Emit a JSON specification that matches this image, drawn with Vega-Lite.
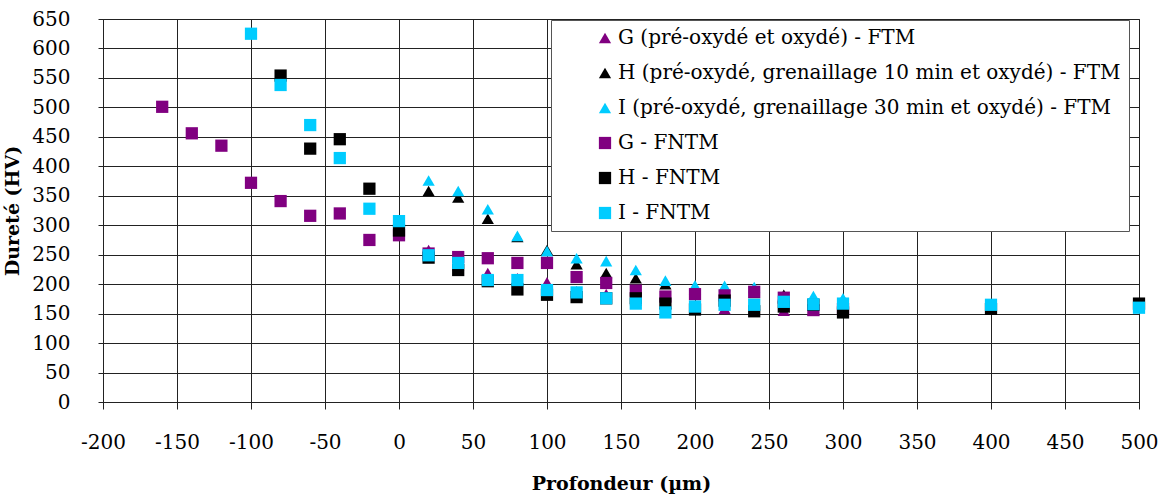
{
  "$schema": "https://vega.github.io/schema/vega-lite/v6.json",
  "autosize": {"type": "none"},
  "width": 1036,
  "height": 383,
  "padding": {"left": 103, "top": 19, "right": 24, "bottom": 93},
  "background": "white",
  "config": {
    "font": "DejaVu Serif",
    "view": {"stroke": "#222", "strokeWidth": 1},
    "axis": {
      "labelFont": "DejaVu Serif",
      "titleFont": "DejaVu Serif",
      "labelFontSize": 20,
      "titleFontSize": 19,
      "titleFontWeight": "bold",
      "labelColor": "#000",
      "titleColor": "#000",
      "gridColor": "#222",
      "gridWidth": 1,
      "gridOpacity": 1,
      "domainColor": "#222",
      "tickColor": "#222",
      "labelExpr": "replace(datum.label, '\u2212', '-')"
    },
    "legend": {
      "orient": "none",
      "legendX": 448,
      "legendY": 1,
      "padding": 8,
      "symbolOffset": 36,
      "symbolSize": 45,
      "labelFont": "DejaVu Serif",
      "labelFontSize": 20,
      "labelColor": "#000",
      "labelLimit": 700,
      "labelOffset": 3,
      "rowPadding": 15,
      "fillColor": "white",
      "strokeColor": "#555"
    }
  },
  "data": {
    "values": [
      {"x": 20, "y": 258, "s": "G (pré-oxydé et oxydé) - FTM"},
      {"x": 40, "y": 232, "s": "G (pré-oxydé et oxydé) - FTM"},
      {"x": 60, "y": 219, "s": "G (pré-oxydé et oxydé) - FTM"},
      {"x": 80, "y": 210, "s": "G (pré-oxydé et oxydé) - FTM"},
      {"x": 100, "y": 203, "s": "G (pré-oxydé et oxydé) - FTM"},
      {"x": 120, "y": 188, "s": "G (pré-oxydé et oxydé) - FTM"},
      {"x": 140, "y": 183, "s": "G (pré-oxydé et oxydé) - FTM"},
      {"x": 160, "y": 172, "s": "G (pré-oxydé et oxydé) - FTM"},
      {"x": 180, "y": 167, "s": "G (pré-oxydé et oxydé) - FTM"},
      {"x": 200, "y": 158, "s": "G (pré-oxydé et oxydé) - FTM"},
      {"x": 220, "y": 158, "s": "G (pré-oxydé et oxydé) - FTM"},
      {"x": 240, "y": 165, "s": "G (pré-oxydé et oxydé) - FTM"},
      {"x": 260, "y": 155, "s": "G (pré-oxydé et oxydé) - FTM"},
      {"x": 280, "y": 155, "s": "G (pré-oxydé et oxydé) - FTM"},
      {"x": 300, "y": 160, "s": "G (pré-oxydé et oxydé) - FTM"},
      {"x": 20, "y": 358, "s": "H (pré-oxydé, grenaillage 10 min et oxydé) - FTM"},
      {"x": 40, "y": 347, "s": "H (pré-oxydé, grenaillage 10 min et oxydé) - FTM"},
      {"x": 60, "y": 311, "s": "H (pré-oxydé, grenaillage 10 min et oxydé) - FTM"},
      {"x": 80, "y": 280, "s": "H (pré-oxydé, grenaillage 10 min et oxydé) - FTM"},
      {"x": 100, "y": 258, "s": "H (pré-oxydé, grenaillage 10 min et oxydé) - FTM"},
      {"x": 120, "y": 234, "s": "H (pré-oxydé, grenaillage 10 min et oxydé) - FTM"},
      {"x": 140, "y": 219, "s": "H (pré-oxydé, grenaillage 10 min et oxydé) - FTM"},
      {"x": 160, "y": 210, "s": "H (pré-oxydé, grenaillage 10 min et oxydé) - FTM"},
      {"x": 180, "y": 200, "s": "H (pré-oxydé, grenaillage 10 min et oxydé) - FTM"},
      {"x": 200, "y": 192, "s": "H (pré-oxydé, grenaillage 10 min et oxydé) - FTM"},
      {"x": 220, "y": 190, "s": "H (pré-oxydé, grenaillage 10 min et oxydé) - FTM"},
      {"x": 240, "y": 185, "s": "H (pré-oxydé, grenaillage 10 min et oxydé) - FTM"},
      {"x": 260, "y": 182, "s": "H (pré-oxydé, grenaillage 10 min et oxydé) - FTM"},
      {"x": 280, "y": 172, "s": "H (pré-oxydé, grenaillage 10 min et oxydé) - FTM"},
      {"x": 300, "y": 168, "s": "H (pré-oxydé, grenaillage 10 min et oxydé) - FTM"},
      {"x": 400, "y": 160, "s": "H (pré-oxydé, grenaillage 10 min et oxydé) - FTM"},
      {"x": 500, "y": 165, "s": "H (pré-oxydé, grenaillage 10 min et oxydé) - FTM"},
      {"x": 20, "y": 376, "s": "I (pré-oxydé, grenaillage 30 min et oxydé) - FTM"},
      {"x": 40, "y": 358, "s": "I (pré-oxydé, grenaillage 30 min et oxydé) - FTM"},
      {"x": 60, "y": 327, "s": "I (pré-oxydé, grenaillage 30 min et oxydé) - FTM"},
      {"x": 80, "y": 282, "s": "I (pré-oxydé, grenaillage 30 min et oxydé) - FTM"},
      {"x": 100, "y": 256, "s": "I (pré-oxydé, grenaillage 30 min et oxydé) - FTM"},
      {"x": 120, "y": 244, "s": "I (pré-oxydé, grenaillage 30 min et oxydé) - FTM"},
      {"x": 140, "y": 239, "s": "I (pré-oxydé, grenaillage 30 min et oxydé) - FTM"},
      {"x": 160, "y": 224, "s": "I (pré-oxydé, grenaillage 30 min et oxydé) - FTM"},
      {"x": 180, "y": 206, "s": "I (pré-oxydé, grenaillage 30 min et oxydé) - FTM"},
      {"x": 200, "y": 198, "s": "I (pré-oxydé, grenaillage 30 min et oxydé) - FTM"},
      {"x": 220, "y": 197, "s": "I (pré-oxydé, grenaillage 30 min et oxydé) - FTM"},
      {"x": 240, "y": 195, "s": "I (pré-oxydé, grenaillage 30 min et oxydé) - FTM"},
      {"x": 260, "y": 178, "s": "I (pré-oxydé, grenaillage 30 min et oxydé) - FTM"},
      {"x": 280, "y": 180, "s": "I (pré-oxydé, grenaillage 30 min et oxydé) - FTM"},
      {"x": 300, "y": 176, "s": "I (pré-oxydé, grenaillage 30 min et oxydé) - FTM"},
      {"x": 400, "y": 165, "s": "I (pré-oxydé, grenaillage 30 min et oxydé) - FTM"},
      {"x": -160, "y": 501, "s": "G - FNTM"},
      {"x": -140, "y": 456, "s": "G - FNTM"},
      {"x": -120, "y": 435, "s": "G - FNTM"},
      {"x": -100, "y": 372, "s": "G - FNTM"},
      {"x": -80, "y": 341, "s": "G - FNTM"},
      {"x": -60, "y": 316, "s": "G - FNTM"},
      {"x": -40, "y": 320, "s": "G - FNTM"},
      {"x": -20, "y": 275, "s": "G - FNTM"},
      {"x": 0, "y": 283, "s": "G - FNTM"},
      {"x": 20, "y": 252, "s": "G - FNTM"},
      {"x": 40, "y": 246, "s": "G - FNTM"},
      {"x": 60, "y": 244, "s": "G - FNTM"},
      {"x": 80, "y": 236, "s": "G - FNTM"},
      {"x": 100, "y": 236, "s": "G - FNTM"},
      {"x": 120, "y": 212, "s": "G - FNTM"},
      {"x": 140, "y": 202, "s": "G - FNTM"},
      {"x": 160, "y": 189, "s": "G - FNTM"},
      {"x": 180, "y": 179, "s": "G - FNTM"},
      {"x": 200, "y": 183, "s": "G - FNTM"},
      {"x": 220, "y": 181, "s": "G - FNTM"},
      {"x": 240, "y": 187, "s": "G - FNTM"},
      {"x": 260, "y": 177, "s": "G - FNTM"},
      {"x": 280, "y": 156, "s": "G - FNTM"},
      {"x": 300, "y": 158, "s": "G - FNTM"},
      {"x": -80, "y": 554, "s": "H - FNTM"},
      {"x": -60, "y": 430, "s": "H - FNTM"},
      {"x": -40, "y": 446, "s": "H - FNTM"},
      {"x": -20, "y": 362, "s": "H - FNTM"},
      {"x": 0, "y": 291, "s": "H - FNTM"},
      {"x": 20, "y": 245, "s": "H - FNTM"},
      {"x": 40, "y": 224, "s": "H - FNTM"},
      {"x": 60, "y": 205, "s": "H - FNTM"},
      {"x": 80, "y": 191, "s": "H - FNTM"},
      {"x": 100, "y": 182, "s": "H - FNTM"},
      {"x": 120, "y": 178, "s": "H - FNTM"},
      {"x": 140, "y": 176, "s": "H - FNTM"},
      {"x": 160, "y": 176, "s": "H - FNTM"},
      {"x": 180, "y": 167, "s": "H - FNTM"},
      {"x": 200, "y": 157, "s": "H - FNTM"},
      {"x": 220, "y": 172, "s": "H - FNTM"},
      {"x": 240, "y": 154, "s": "H - FNTM"},
      {"x": 260, "y": 162, "s": "H - FNTM"},
      {"x": 280, "y": 165, "s": "H - FNTM"},
      {"x": 300, "y": 152, "s": "H - FNTM"},
      {"x": 400, "y": 158, "s": "H - FNTM"},
      {"x": 500, "y": 167, "s": "H - FNTM"},
      {"x": -100, "y": 625, "s": "I - FNTM"},
      {"x": -80, "y": 538, "s": "I - FNTM"},
      {"x": -60, "y": 470, "s": "I - FNTM"},
      {"x": -40, "y": 414, "s": "I - FNTM"},
      {"x": -20, "y": 328, "s": "I - FNTM"},
      {"x": 0, "y": 307, "s": "I - FNTM"},
      {"x": 20, "y": 249, "s": "I - FNTM"},
      {"x": 40, "y": 236, "s": "I - FNTM"},
      {"x": 60, "y": 207, "s": "I - FNTM"},
      {"x": 80, "y": 207, "s": "I - FNTM"},
      {"x": 100, "y": 190, "s": "I - FNTM"},
      {"x": 120, "y": 186, "s": "I - FNTM"},
      {"x": 140, "y": 176, "s": "I - FNTM"},
      {"x": 160, "y": 167, "s": "I - FNTM"},
      {"x": 180, "y": 152, "s": "I - FNTM"},
      {"x": 200, "y": 162, "s": "I - FNTM"},
      {"x": 220, "y": 165, "s": "I - FNTM"},
      {"x": 240, "y": 165, "s": "I - FNTM"},
      {"x": 260, "y": 170, "s": "I - FNTM"},
      {"x": 280, "y": 166, "s": "I - FNTM"},
      {"x": 300, "y": 167, "s": "I - FNTM"},
      {"x": 400, "y": 165, "s": "I - FNTM"},
      {"x": 500, "y": 160, "s": "I - FNTM"}
    ]
  },
  "mark": {"type": "point", "filled": true, "opacity": 1, "strokeWidth": 0},
  "encoding": {
    "x": {
      "field": "x", "type": "quantitative",
      "scale": {"domain": [-200, 500], "nice": false, "zero": false},
      "axis": {
        "title": "Profondeur (µm)",
        "values": [-200, -150, -100, -50, 0, 50, 100, 150, 200, 250, 300, 350, 400, 450, 500],
        "tickSize": 7, "labelPadding": 23, "titlePadding": 22, "labelFlush": false
      }
    },
    "y": {
      "field": "y", "type": "quantitative",
      "scale": {"domain": [0, 650], "nice": false},
      "axis": {
        "title": "Dureté (HV)",
        "values": [0, 50, 100, 150, 200, 250, 300, 350, 400, 450, 500, 550, 600, 650],
        "tickSize": 5, "labelPadding": 28, "titlePadding": 9
      }
    },
    "color": {
      "field": "s", "type": "nominal",
      "scale": {
        "domain": ["G (pré-oxydé et oxydé) - FTM", "H (pré-oxydé, grenaillage 10 min et oxydé) - FTM", "I (pré-oxydé, grenaillage 30 min et oxydé) - FTM", "G - FNTM", "H - FNTM", "I - FNTM"],
        "range": ["#800080", "#000000", "#00CCFF", "#800080", "#000000", "#00CCFF"]
      },
      "legend": {"title": null}
    },
    "shape": {
      "field": "s", "type": "nominal",
      "scale": {
        "domain": ["G (pré-oxydé et oxydé) - FTM", "H (pré-oxydé, grenaillage 10 min et oxydé) - FTM", "I (pré-oxydé, grenaillage 30 min et oxydé) - FTM", "G - FNTM", "H - FNTM", "I - FNTM"],
        "range": ["triangle-up", "triangle-up", "triangle-up", "square", "square", "square"]
      },
      "legend": {"title": null}
    },
    "size": {
      "field": "s", "type": "nominal",
      "scale": {
        "domain": ["G (pré-oxydé et oxydé) - FTM", "H (pré-oxydé, grenaillage 10 min et oxydé) - FTM", "I (pré-oxydé, grenaillage 30 min et oxydé) - FTM", "G - FNTM", "H - FNTM", "I - FNTM"],
        "range": [150, 150, 150, 85, 85, 85]
      },
      "legend": null
    }
  }
}
